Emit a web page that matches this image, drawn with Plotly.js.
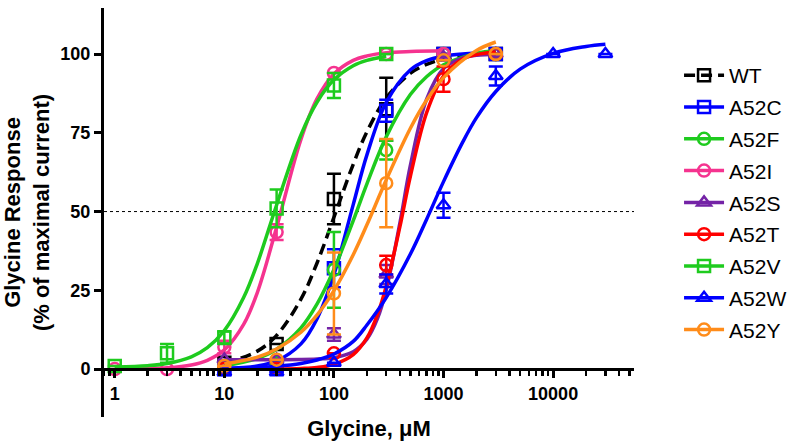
<!DOCTYPE html>
<html>
<head>
<meta charset="utf-8">
<script src="https://cdn.plot.ly/plotly-3.0.1.min.js"></script>
<style>html,body{margin:0;padding:0;background:#fff;}#chart{width:800px;height:445px;}</style>
</head>
<body>
<div id="chart"></div>
<script>
// ---- data ----
const seriesNames = ["WT","A52C","A52F","A52I","A52S","A52T","A52V","A52W","A52Y"];

const WT_x = [10,30,100,300,1000,3000];
const WT_y = [2,8,54,82.5,100,100];
const WT_err = [null,null,8,10,null,null];
const WT_cx = [10,20,30,50,70,100,150,200,300,500,700,1000,2000,3000];
const WT_cy = [1.8,5.7,10.7,22.2,33.6,48.2,65.0,75.3,86.0,93.9,96.7,98.4,99.8,100.2];

const C_x = [10,30,100,300,1000,3000];
const C_y = [0,1,32,82,100,100];
const C_err = [null,null,6,3.5,null,null];
const C_cx = [10,20,30,50,70,100,150,200,300,500,700,1000,2000,3000];
const C_cy = [0.2,1.0,2.6,8.0,15.9,30.0,52.2,68.0,84.6,95.0,97.9,99.3,100.3,100.5];

const F_x = [10,30,100,300,1000,3000];
const F_y = [0,2,31.5,69.5,100,100];
const F_err = [null,null,12,3,null,null];
const F_cx = [10,20,30,50,70,100,150,200,300,500,700,1000,2000,3000];
const F_cy = [1.1,3.4,6.3,13.1,20.6,31.6,47.1,58.8,73.7,87.2,92.8,96.6,100.2,101.0];

const I_x = [1,3,10,30,100,300,1000];
const I_y = [0,0,7,43.5,94,100,100];
const I_err = [null,null,2,2.5,null,null,null];
const I_cx = [1,2,3,5,7,10,15,20,30,50,70,100,150,200,300,500,1000];
const I_cy = [0.0,0.2,0.4,1.3,2.8,6.1,14.2,24.3,45.0,72.9,85.8,93.7,98.0,99.4,100.4,100.8,101.0];

const S_x = [10,30,100,300,1000,3000];
const S_y = [3,3,11,30,99,100];
const S_err = [null,null,2,3,null,null];
const S_cx = [10,20,30,50,70,100,150,200,250,300,400,500,700,1000,1500,2000,3000];
const S_cy = [3.0,3.0,3.0,3.05,3.2,3.6,5.5,9.5,16.1,25.1,46.4,64.9,85.6,95.4,98.8,99.6,99.9];

const T_x = [10,30,100,300,1000,3000];
const T_y = [0,0,5,33,92,100];
const T_err = [null,null,null,3,4,null];
const T_cx = [10,20,30,50,70,100,150,200,250,300,400,500,700,1000,1500,2000,3000];
const T_cy = [0.0,0.0,0.04,0.2,0.5,1.5,4.6,9.9,17.4,26.3,45.2,61.4,81.3,93.0,98.4,99.8,100.6];

const V_x = [1,3,10,30,100,300];
const V_y = [1,5,10,51,90,100];
const V_err = [null,3,2,6,4,null];
const V_cx = [1,2,3,5,7,10,15,20,30,50,70,100,150,200,300];
const V_cy = [0.7,1.1,1.8,3.9,6.8,12.2,22.7,33.5,52.1,74.3,84.7,91.8,96.3,98.0,99.3];

const W_x = [10,30,100,300,1000,3000,10000,30000];
const W_y = [-1,-1,2,27,52,93,100,100];
const W_err = [null,null,null,3,4,3,null,null];
const W_cx = [10,20,30,50,70,100,150,200,300,500,700,1000,1500,2000,3000,5000,10000,20000,30000];
const W_cy = [0.2,0.5,0.9,1.8,2.9,4.8,8.8,14.0,22.7,36.6,47.5,59.5,72.1,79.8,88.1,95.2,100.2,102.4,103.1];

const Y_x = [10,30,100,300,1000,3000];
const Y_y = [1,3,24,59,98,100];
const Y_err = [null,null,13,14,null,null];
const Y_cx = [10,20,30,50,70,100,150,200,300,500,700,1000,2000,3000];
const Y_cy = [1.6,3.8,6.4,11.7,17.1,24.9,36.3,45.8,60.0,76.5,85.3,92.5,101.1,103.8];

const xTickVals = [1,10,100,1000,10000];
const xTickText = ["1","10","100","1000","10000"];
const yTickVals = [0,25,50,75,100];

// ---- styles ----
const colors = {WT:"#000000",A52C:"#0000FF",A52F:"#1ECB1E",A52I:"#F5338F",A52S:"#7423A6",
                A52T:"#FF0000",A52V:"#1ECB1E",A52W:"#0000FF",A52Y:"#FF8C1A"};
const symbols = {WT:"square-open",A52C:"square-open",A52F:"circle-open",A52I:"circle-open",
                 A52S:"triangle-up-open",A52T:"circle-open",A52V:"square-open",A52W:"triangle-up-open",A52Y:"circle-open"};
const dashes = {WT:"11px,6px"};

const sets = {
  WT:[WT_x,WT_y,WT_err,WT_cx,WT_cy], A52C:[C_x,C_y,C_err,C_cx,C_cy], A52F:[F_x,F_y,F_err,F_cx,F_cy],
  A52I:[I_x,I_y,I_err,I_cx,I_cy], A52S:[S_x,S_y,S_err,S_cx,S_cy], A52T:[T_x,T_y,T_err,T_cx,T_cy],
  A52V:[V_x,V_y,V_err,V_cx,V_cy], A52W:[W_x,W_y,W_err,W_cx,W_cy], A52Y:[Y_x,Y_y,Y_err,Y_cx,Y_cy]
};

const FONT = "Liberation Sans, Arial, sans-serif";
const traces = [];
seriesNames.forEach(function(n){
  const s = sets[n];
  const c = colors[n];
  traces.push({x:s[3], y:s[4], type:"scatter", mode:"lines", showlegend:false, hoverinfo:"skip",
    line:{color:c, width:3.5, shape:"spline", smoothing:1, dash:dashes[n]||"solid"}});
  traces.push({x:s[0], y:s[1], type:"scatter", mode:"markers", showlegend:false,
    marker:{symbol:symbols[n], size:12, color:c, line:{width:2.5, color:c}},
    error_y:{type:"data", array:s[2], visible:true, color:c, thickness:2.5, width:7}});
});
// legend entries (line + marker sample)
seriesNames.forEach(function(n){
  const c = colors[n];
  traces.push({x:[null], y:[null], type:"scatter", mode:"lines+markers", name:n, legendgroup:n,
    line:{color:c, width:3.5, dash:dashes[n]||"solid"},
    marker:{symbol:symbols[n], size:12, color:c, line:{width:2.5, color:c}}});
});

const layout = {
  width:800, height:445,
  margin:{l:104, r:152, t:8, b:28},
  paper_bgcolor:"#fff", plot_bgcolor:"#fff",
  font:{family:FONT, color:"#000"},
  xaxis:{type:"log", range:[-0.098,4.738], anchor:"free", position:0.1171,
    showline:true, linewidth:3, linecolor:"#000", mirror:false,
    ticks:"outside", ticklen:7, tickwidth:3, tickcolor:"#000",
    tickmode:"array", tickvals:xTickVals, ticktext:xTickText,
    tickfont:{family:FONT, size:18, weight:"bold", color:"#000"},
    minor:{dtick:"D1", ticks:"outside", ticklen:5, tickwidth:2.5, tickcolor:"#000", showgrid:false},
    showgrid:false, zeroline:false,
    title:{text:"Glycine, μM", font:{family:FONT, size:22, weight:"bold", color:"#000"}, standoff:17}},
  yaxis:{range:[-15.2,114.6], showline:true, linewidth:3, linecolor:"#000",
    ticks:"outside", ticklen:7, tickwidth:3, tickcolor:"#000",
    tickmode:"array", tickvals:yTickVals,
    tickfont:{family:FONT, size:18, weight:"bold", color:"#000"},
    showgrid:false, zeroline:false,
    title:{text:"Glycine Response<br>(% of maximal current)", font:{family:FONT, size:22, weight:"bold", color:"#000"}, standoff:6}},
  shapes:[{type:"line", xref:"paper", x0:0, x1:1, yref:"y", y0:50, y1:50, layer:"below",
    line:{color:"#000", width:1, dash:"dot"}}],
  legend:{x:1.085, xanchor:"left", y:0.885, yanchor:"top", traceorder:"grouped", tracegroupgap:1.5,
    font:{family:FONT, size:21, color:"#000"}, itemwidth:40, bgcolor:"rgba(0,0,0,0)"},
  showlegend:true
};

Plotly.newPlot("chart", traces, layout, {displayModeBar:false, staticPlot:true});
</script>
</body>
</html>
